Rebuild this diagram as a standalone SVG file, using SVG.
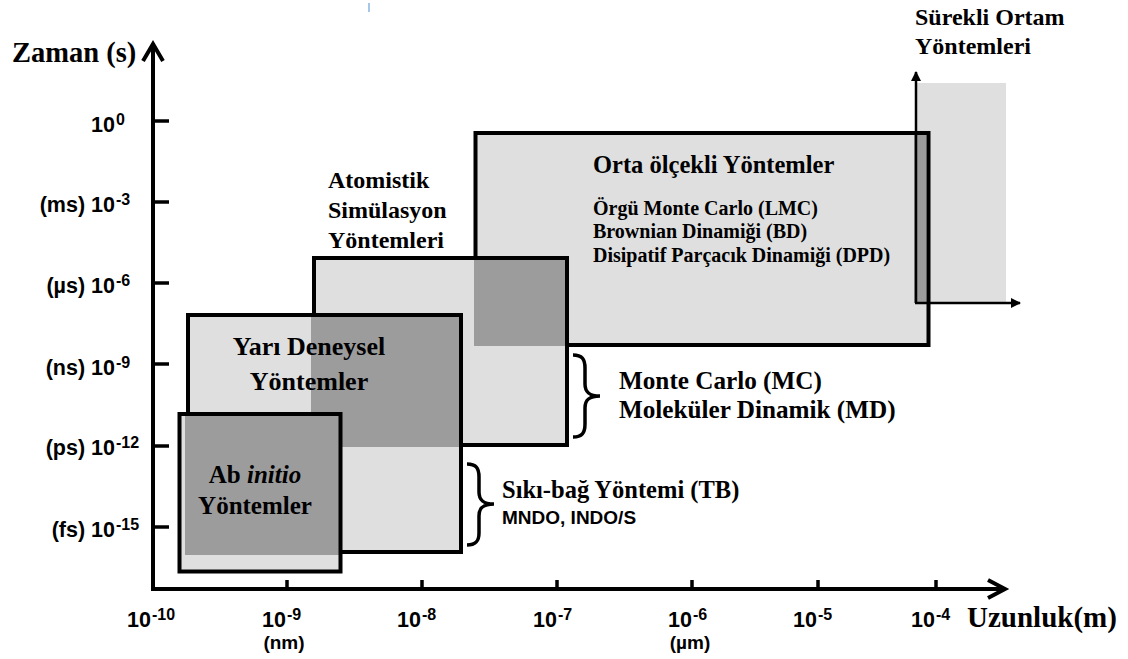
<svg xmlns="http://www.w3.org/2000/svg" width="1128" height="659" viewBox="0 0 1128 659">
<style>
.s{font-family:"Liberation Serif","Times New Roman",serif;font-weight:bold;fill:#000}
.a{font-family:"Liberation Sans",Arial,sans-serif;font-weight:bold;fill:#000}
.lt{fill:#dfdfdf}
.dk{fill:#9c9c9c}
.bd{fill:none;stroke:#000;stroke-width:4}
.ax{fill:none;stroke:#000;stroke-width:4}
.tk{stroke:#000;stroke-width:3.5}
.br{fill:none;stroke:#000;stroke-width:3.5}
</style>
<defs>
<marker id="tri" viewBox="0 0 10 10" refX="9" refY="5" markerWidth="4" markerHeight="4" orient="auto"><path d="M0,0 L10,5 L0,10 z" fill="#000"/></marker>
</defs>
<rect width="1128" height="659" fill="#fff"/>
<line x1="369" y1="3" x2="369" y2="12" stroke="#8ab4e0" stroke-width="1.5"/>

<g id="surekli">
<rect class="lt" x="916" y="83" width="90" height="220"/>
</g>

<g id="orta">
<rect class="lt" x="475.5" y="133" width="453" height="212"/>
<rect class="dk" x="914" y="135" width="12.5" height="168"/>
<rect class="bd" x="475.5" y="133" width="453" height="212"/>
<text class="s" x="593" y="173" font-size="24.5">Orta ölçekli Yöntemler</text>
<text class="s" x="593" y="215" font-size="20">Örgü Monte Carlo (LMC)</text>
<text class="s" x="593" y="238" font-size="20">Brownian Dinamiği (BD)</text>
<text class="s" x="593" y="262" font-size="20">Disipatif Parçacık Dinamiği (DPD)</text>
</g>

<g id="surekli-axes">
<line x1="916" y1="303" x2="916" y2="72" stroke="#000" stroke-width="2.5" marker-end="url(#tri)"/>
<line x1="915" y1="303" x2="1020" y2="303" stroke="#000" stroke-width="2.5" marker-end="url(#tri)"/>
<text class="s" x="915" y="25" font-size="24">Sürekli Ortam</text>
<text class="s" x="915" y="54" font-size="24">Yöntemleri</text>
</g>

<g id="atomistik">
<rect class="lt" x="314" y="258" width="253" height="187"/>
<rect class="dk" x="474" y="258" width="93" height="88"/>
<rect class="bd" x="314" y="258" width="253" height="187"/>
<text class="s" x="328" y="188" font-size="24">Atomistik</text>
<text class="s" x="328" y="218" font-size="24">Simülasyon</text>
<text class="s" x="328" y="248" font-size="24">Yöntemleri</text>
</g>

<g id="yari-deneysel">
<rect class="lt" x="188" y="315" width="273" height="237"/>
<rect class="dk" x="311" y="315" width="150" height="132"/>
<rect class="bd" x="188" y="315" width="273" height="237"/>
<text class="s" x="309" y="355" font-size="26" text-anchor="middle">Yarı Deneysel</text>
<text class="s" x="309" y="390" font-size="26" text-anchor="middle">Yöntemler</text>
</g>

<g id="ab-initio">
<rect class="lt" x="179.5" y="414" width="161" height="157.5"/>
<rect class="dk" x="185" y="414" width="155" height="141"/>
<rect class="bd" x="179.5" y="414" width="161" height="157.5"/>
<text class="s" x="255" y="483" font-size="25" text-anchor="middle">Ab <tspan font-style="italic">initio</tspan></text>
<text class="s" x="255" y="514" font-size="25" text-anchor="middle">Yöntemler</text>
</g>

<g id="mc-md">
<text class="s" x="619" y="389" font-size="25.2">Monte Carlo (MC)</text>
<text class="s" x="619" y="418" font-size="25.2">Moleküler Dinamik (MD)</text>
</g>

<g id="tb">
<text class="s" x="502" y="498" font-size="24.5">Sıkı-bağ Yöntemi (TB)</text>
<text class="a" x="502" y="524" font-size="19">MNDO, INDO/S</text>
</g>

<g id="connectors">
<path class="br" d="M573,355 C582,355 585,359 585,368 L585,384 C585,392 589,396 600,396 C589,396 585,400 585,408 L585,424 C585,433 582,437 573,437"/>
<path class="br" d="M467,464 C476,464 479,468 479,477 L479,492 C479,500 483,504 494,504 C483,504 479,508 479,516 L479,533 C479,541 476,545 467,545"/>
</g>

<g id="axes">
<line class="ax" x1="153" y1="44" x2="153" y2="591"/>
<polyline class="ax" points="143,61 153,44 163,61"/>
<line class="ax" x1="151" y1="589" x2="1005" y2="589"/>
<polyline class="ax" points="988,580 1005,589 988,598"/>
<line class="tk" x1="153" y1="121" x2="169" y2="121"/>
<line class="tk" x1="153" y1="202" x2="169" y2="202"/>
<line class="tk" x1="153" y1="283" x2="169" y2="283"/>
<line class="tk" x1="153" y1="364" x2="169" y2="364"/>
<line class="tk" x1="153" y1="446" x2="169" y2="446"/>
<line class="tk" x1="153" y1="527" x2="169" y2="527"/>
<line class="tk" x1="287" y1="580" x2="287" y2="589"/>
<line class="tk" x1="422" y1="580" x2="422" y2="589"/>
<line class="tk" x1="557" y1="580" x2="557" y2="589"/>
<line class="tk" x1="692" y1="580" x2="692" y2="589"/>
<line class="tk" x1="818" y1="580" x2="818" y2="589"/>
<line class="tk" x1="936" y1="580" x2="936" y2="589"/>
<text class="s" x="12" y="62" font-size="28.5">Zaman (s)</text>
<text class="s" x="967" y="627" font-size="29">Uzunluk(m)</text>
</g>

<g id="y-labels" class="a">
<text x="115" y="132" font-size="21.5" text-anchor="end">10</text><text x="116" y="125" font-size="16">0</text>
<text x="115" y="212" font-size="21.5" text-anchor="end">(ms) 10</text><text x="116" y="205" font-size="16">-3</text>
<text x="115" y="293" font-size="21.5" text-anchor="end">(µs) 10</text><text x="116" y="286" font-size="16">-6</text>
<text x="115" y="375" font-size="21.5" text-anchor="end">(ns) 10</text><text x="116" y="368" font-size="16">-9</text>
<text x="115" y="455" font-size="21.5" text-anchor="end">(ps) 10</text><text x="116" y="448" font-size="16">-12</text>
<text x="115" y="537" font-size="21.5" text-anchor="end">(fs) 10</text><text x="116" y="530" font-size="16">-15</text>
</g>

<g id="x-labels" class="a">
<text x="151" y="627" font-size="21.5" text-anchor="end">10</text><text x="152" y="620" font-size="16">-10</text>
<text x="286" y="627" font-size="21.5" text-anchor="end">10</text><text x="287" y="620" font-size="16">-9</text>
<text x="421" y="627" font-size="21.5" text-anchor="end">10</text><text x="422" y="620" font-size="16">-8</text>
<text x="557" y="627" font-size="21.5" text-anchor="end">10</text><text x="558" y="620" font-size="16">-7</text>
<text x="692" y="627" font-size="21.5" text-anchor="end">10</text><text x="693" y="620" font-size="16">-6</text>
<text x="817" y="627" font-size="21.5" text-anchor="end">10</text><text x="818" y="620" font-size="16">-5</text>
<text x="935" y="627" font-size="21.5" text-anchor="end">10</text><text x="936" y="620" font-size="16">-4</text>
<text x="284" y="649" font-size="19" text-anchor="middle">(nm)</text>
<text x="690" y="649" font-size="19" text-anchor="middle">(µm)</text>
</g>
</svg>
